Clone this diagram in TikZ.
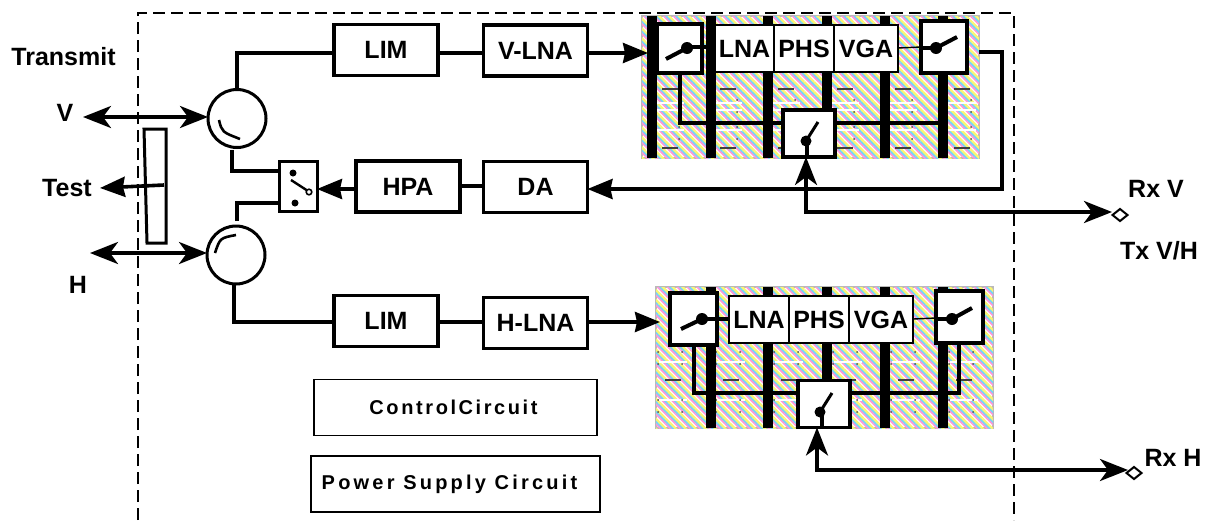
\documentclass[tikz,border=0pt]{standalone}
\usepackage{fontspec}
\setmainfont{Liberation Sans}
\newfontfamily\ctlfont[LetterSpace=13,WordSpace=0.3]{Liberation Sans}
\newfontfamily\pwrfont[LetterSpace=16]{Liberation Sans}
\usepackage{xcolor}
\usetikzlibrary{arrows.meta, patterns.meta, shapes.geometric}
\definecolor{hatchpink}{RGB}{255,150,215}
\definecolor{hatchcyan}{RGB}{115,215,250}
\definecolor{hatchyellow}{RGB}{250,245,115}
\definecolor{hatchedge}{RGB}{185,185,185}

\begin{document}
\begin{tikzpicture}[
    x=1pt,
    y=-1pt,
    font=\fontsize{25}{25}\bfseries,
    block/.style={draw, line width=3.4pt, fill=white, inner sep=0pt, outer sep=0pt, minimum width=104pt, minimum height=51pt},
    cell/.style={draw, line width=1.4pt, fill=white, inner sep=0pt, outer sep=0pt, minimum height=47pt},
    swbox/.style={draw, line width=3.6pt, fill=white, inner sep=0pt, outer sep=0pt},
    plainbox/.style={draw, line width=1.6pt, fill=white, inner sep=0pt, outer sep=0pt, minimum width=283pt, minimum height=56pt},
    hybrid/.style={draw, circle, line width=3pt, fill=white, inner sep=0pt, outer sep=0pt, minimum size=58pt},
    port/.style={draw, diamond, line width=2pt, fill=white, inner sep=0pt, outer sep=0pt, minimum width=15pt, minimum height=12pt},
    label/.style={inner sep=0pt, outer sep=0pt},
    wire/.style={line width=3.6pt},
    thinwire/.style={line width=1.4pt},
    arrow/.style={line width=3.6pt, -{Stealth[length=25pt, width=20pt, inset=2pt]}},
    twoway/.style={line width=3.6pt, {Stealth[length=28pt, width=22pt, inset=8pt]}-{Stealth[length=28pt, width=22pt, inset=8pt]}},
    blade/.style={line width=4pt},
    panel/.style={draw=hatchedge, line width=1.2pt, fill=white,
        postaction={pattern={Lines[angle=-45, distance=7pt, line width=2.2pt]}, pattern color=hatchpink},
        postaction={pattern={Lines[angle=-45, distance=7pt, line width=2.2pt, xshift=2.4pt]}, pattern color=hatchcyan},
        postaction={pattern={Lines[angle=-45, distance=7pt, line width=2.2pt, xshift=4.8pt]}, pattern color=hatchyellow}}
]
\useasboundingbox (0,0) rectangle (1209,520);
\fill[white] (0,0) rectangle (1209,520);
% frame
\draw[line width=1.5pt, dash pattern=on 12pt off 6pt] (138,520) -- (138,13) -- (1014,13) -- (1014,520);
% hatched panels
\draw[panel] (642,16) rectangle (979,158);
\draw[panel] (656,287) rectangle (993,428);
\foreach \dashx in {670,728,786,845,903,962} {
    \draw[line width=1.5pt, white] (\dashx-14,103) -- (\dashx+14,103);
    \draw[line width=1.5pt, white] (\dashx-14,110) -- (\dashx+14,110);
    \draw[line width=1.5pt, white] (\dashx-14,130) -- (\dashx+14,130);
    \draw[line width=1.5pt, black!75] (\dashx-8,89) -- (\dashx+8,89);
    \draw[line width=1.5pt, black!75] (\dashx-8,148) -- (\dashx+8,148);
    \foreach \doty in {100,112,127,139} {
        \fill[black!70] (\dashx+9,\doty) circle[radius=1];
        \fill[black!70] (\dashx-15,\doty) circle[radius=1];
    }
}
\foreach \dashx in {673,731,789,848,906,964} {
    \draw[line width=1.5pt, white] (\dashx-14,362) -- (\dashx+14,362);
    \draw[line width=1.5pt, white] (\dashx-14,400) -- (\dashx+14,400);
    \draw[line width=1.5pt, black!75] (\dashx-8,380) -- (\dashx+8,380);
    \foreach \doty in {352,364,400,412} {
        \fill[black!70] (\dashx+9,\doty) circle[radius=1];
        \fill[black!70] (\dashx-15,\doty) circle[radius=1];
    }
}
\fill (647,16) rectangle (657,158);
\foreach \barx in {711,768,827,885,943} {
    \fill (\barx-5,16) rectangle (\barx+5,158);
    \fill (\barx-5,287) rectangle (\barx+5,428);
}
% blocks
\node[block] (limv) at (386,50) {LIM};
\node[block] (vlna) at (535.5,50.5) {V-LNA};
\node[block] (hpa) at (408,186.5) {HPA};
\node[block] (da) at (535.5,187) {DA};
\node[block] (limh) at (386,321) {LIM};
\node[block] (hlna) at (535.5,323) {H-LNA};
\node[plainbox] (ctl) at (455.5,407.5) {\fontsize{20}{20}\ctlfont\bfseries\hspace{-4pt}Control Circuit};
\node[plainbox, minimum width=289pt] (pwr) at (455.5,484) {\fontsize{20}{20}\pwrfont\bfseries\hspace{-12pt}Power Supply Circuit};
\node[hybrid] (hybv) at (237,118.5) {};
\node[hybrid] (hybh) at (236,255) {};
\node[swbox, line width=3pt, minimum width=38pt, minimum height=50pt] (txsw) at (298,186) {};
% upper panel
\node[swbox, minimum width=45pt, minimum height=49pt] (swva) at (679.5,48.5) {};
\node[swbox, minimum width=46pt, minimum height=52pt] (swvb) at (944,47) {};
\node[swbox, minimum width=52pt, minimum height=47pt] (swvc) at (809,133.5) {};
\node[cell, minimum width=59pt] (lnav) at (744.5,48.5) {LNA};
\node[cell, minimum width=60pt] (phsv) at (804,48.5) {PHS};
\node[cell, minimum width=64pt] (vgav) at (866,48.5) {VGA};
% lower panel
\node[swbox, minimum width=47pt, minimum height=52pt] (swha) at (693.5,319) {};
\node[swbox, minimum width=47pt, minimum height=52pt] (swhb) at (959.5,317) {};
\node[swbox, minimum width=52pt, minimum height=47pt] (swhc) at (824,404) {};
\node[cell, minimum width=60pt] (lnah) at (759,319.5) {LNA};
\node[cell, minimum width=60pt] (phsh) at (819,319.5) {PHS};
\node[cell, minimum width=64pt] (vgah) at (881,319.5) {VGA};
% outside labels
\node[label] (txt) at (63.5,57) {Transmit};
\node[label] (vtxt) at (65,113) {V};
\node[label] (testtxt) at (67,188) {Test};
\node[label] (htxt) at (78,285) {H};
\node[label] (rxv) at (1156,189) {Rx V};
\node[label] (txvh) at (1159,251) {Tx V/H};
\node[label] (rxh) at (1173,458) {Rx H};
\node[port] (portv) at (1120,215) {};
\node[port] (porth) at (1134,473) {};
% coupler
\draw[line width=3pt, fill=white] (144,129) -- (166,129) -- (166,243) -- (147,243) -- cycle;
\coordinate (vend) at (83,117);
\coordinate (hend) at (90,253);
\coordinate (testjoin) at (164,185);
\coordinate (testend) at (100,188);
\coordinate (retstart) at (979,52);
\coordinate (retcorner) at (1002,52);
\coordinate (retlow) at (1002,189);
\coordinate (rxvcorner) at (806,212);
\coordinate (rxhcorner) at (817,470);
\coordinate (rxvtip) at (1112,212);
\coordinate (rxhtip) at (1128,470);
% wires
\draw[twoway] (vend) -- (hybv.west |- vend);
\draw[twoway] (hend) -- (hybh.west |- hend);
\draw[arrow] (testjoin) -- (testend);
\draw[wire] (hybv.north) -- (237,53) -- (limv.west |- 0,53);
\draw[wire] (232,150) -- (232,171) -- (txsw.west |- 0,171);
\draw[wire] (237,221) -- (237,203) -- (txsw.west |- 0,203);
\draw[wire] (hybh.south -| 234,0) -- (234,322) -- (limh.west |- 0,322);
\draw[wire] (limv.east |- 0,53) -- (vlna.west |- 0,53);
\draw[arrow] (vlna.east |- 0,53) -- (648,53);
\draw[wire] (limh.east |- 0,322) -- (hlna.west |- 0,322);
\draw[arrow] (hlna.east |- 0,322) -- (660,322);
\draw[wire] (da.west |- 0,186) -- (hpa.east |- 0,186);
\draw[arrow] (hpa.west |- 0,189) -- (txsw.east |- 0,189);
\draw[arrow] (retstart) -- (retcorner) -- (retlow) -- (da.east |- retlow);
\draw[twoway] (swvc.south -| rxvcorner) -- (rxvcorner) -- (rxvtip);
\draw[twoway] (swhc.south -| rxhcorner) -- (rxhcorner) -- (rxhtip);
% panel wires
\draw[wire] (swva.south -| 680,0) -- (680,123) -- (swvc.west |- 0,123);
\draw[wire] (swvc.east |- 0,123) -- (943,123);
\draw[wire] (swha.south -| 694,0) -- (694,393) -- (swhc.west |- 0,393);
\draw[wire] (swhc.east |- 0,393) -- (959,393) -- (swhb.south -| 959,0);
\draw[wire] (swva.center |- 0,47) ++(7,0) -- (lnav.west |- 0,47);
\draw[thinwire] (vgav.east |- 0,48) -- (swvb.west |- 0,47);
\draw[wire] (swha.center |- 0,319) ++(8,0) -- (lnah.west |- 0,319);
\draw[thinwire] (vgah.east |- 0,319) -- (swhb.west |- 0,318);
% switch blades
\fill (687,48) circle[radius=6];
\draw[blade] (687,48) -- (666,59);
\fill (936,48) circle[radius=6];
\draw[blade] (936,48) -- (957,37);
\draw[wire] (swvb.west |- 0,48) -- (936,48);
\fill (806,141) circle[radius=5.5];
\draw[blade, line width=3pt] (806,141) -- (818,122);
\draw[wire] (807,141) -- (807,158);
\fill (702,319) circle[radius=6];
\draw[blade] (702,319) -- (681,329);
\fill (952,319) circle[radius=6];
\draw[blade] (952,319) -- (972,308);
\draw[wire] (swhb.west |- 0,319) -- (952,319);
\fill (820,412) circle[radius=5.5];
\draw[blade, line width=3pt] (820,412) -- (832,393);
\draw[wire] (822,412) -- (822,428);
% transfer switch
\fill (293,173) circle[radius=3.5];
\fill (295,203) circle[radius=3.5];
\draw[line width=2.4pt] (291,180) -- (308,191);
\draw[line width=1.6pt, fill=white] (309,192) circle[radius=2.8];
% hybrid arcs
\draw[line width=2.6pt] (219,120) .. controls (222,132) .. (240,139);
\draw[line width=2.6pt] (215,253) .. controls (220,238) .. (236,235);
\end{tikzpicture}
\end{document}
